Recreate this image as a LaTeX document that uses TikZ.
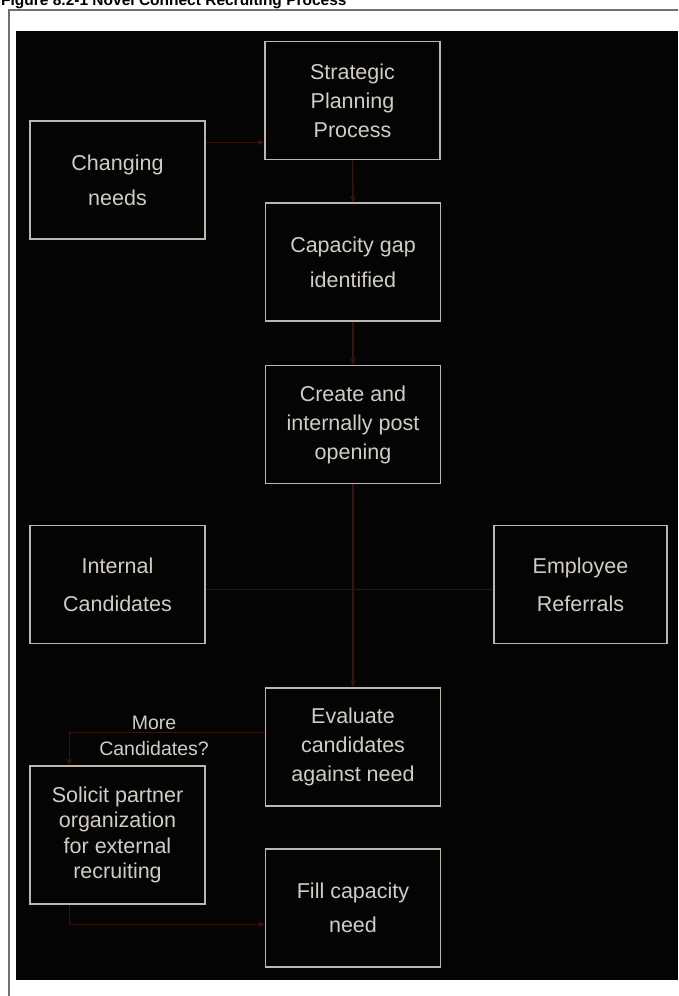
\documentclass[tikz,border=0pt]{standalone}
\usepackage{fontspec}
\setmainfont{Liberation Sans}
\usetikzlibrary{arrows.meta}
\definecolor{boxline}{RGB}{190,182,172}
\definecolor{txt}{RGB}{210,205,196}
\definecolor{connc}{RGB}{50,22,14}
\definecolor{framec}{RGB}{112,112,112}
\definecolor{bgc}{RGB}{4,4,4}
\begin{document}
\begin{tikzpicture}[x=1pt,y=-1pt,
  box/.style={draw=boxline, line width=1.3pt, minimum width=175pt, minimum height=118pt,
    align=center, text=txt, inner sep=0pt, font=\fontsize{21.5}{29}\selectfont},
  conn/.style={draw=connc, line width=1.4pt, -{Stealth[length=7pt,width=6pt]}},
  plain/.style={draw=connc, line width=1.4pt}]
\useasboundingbox (0,0) rectangle (678,996);
\fill[white] (0,0) rectangle (678,996);
\node[anchor=base west, font=\bfseries\fontsize{15.5}{18}\selectfont, inner sep=0pt] (title) at (1,5) {Figure 8.2-1 Novel Connect Recruiting Process};
\draw[framec, line width=2pt] (8.5,996) -- (8.5,10) -- (678,10);
\fill[bgc] (16,31) rectangle (678,980);

\node[box] (strat) at (352.5,100.5) {Strategic\\Planning\\Process};
\node[box, font=\fontsize{21.5}{35}\selectfont] (change) at (117.5,180) {Changing\\needs};
\node[box, font=\fontsize{21.5}{35}\selectfont] (gap) at (353,262) {Capacity gap\\identified};
\node[box] (create) at (353,424.5) {Create and\\internally post\\opening};
\node[box, font=\fontsize{21.5}{38}\selectfont] (internal) at (117.5,584.5) {Internal\\Candidates};
\node[box, minimum width=173pt, font=\fontsize{21.5}{38}\selectfont] (referral) at (580.5,584.5) {Employee\\Referrals};
\node[box] (eval) at (353,747) {Evaluate\\candidates\\against need};
\node[box, minimum height=138pt, font=\fontsize{21.5}{25.5}\selectfont] (solicit) at (117.5,835) {Solicit partner\\organization\\for external\\recruiting};
\node[box, font=\fontsize{21.5}{34}\selectfont] (fill) at (353,908) {Fill capacity\\need};
\node[align=center, text=txt, inner sep=0pt, font=\fontsize{19.5}{26}\selectfont] (more) at (154,736) {More\\Candidates?};

\draw[conn] ([yshift=-22pt]change.north east) -- ([yshift=-22pt]change.north east -| strat.west);
\draw[conn] (strat.south) -- (gap.north);
\draw[conn] (gap.south) -- (create.north);
\draw[conn] (create.south) -- (eval.north);
\draw[plain] ([yshift=-5pt]internal.east) -- ([yshift=-5pt]referral.west);
\draw[conn] ([yshift=-45pt]eval.north west) -| ([xshift=40pt]solicit.north west);
\draw[conn] ([xshift=40pt]solicit.south west) |- ([yshift=-76pt]fill.north west);
\end{tikzpicture}
\end{document}
